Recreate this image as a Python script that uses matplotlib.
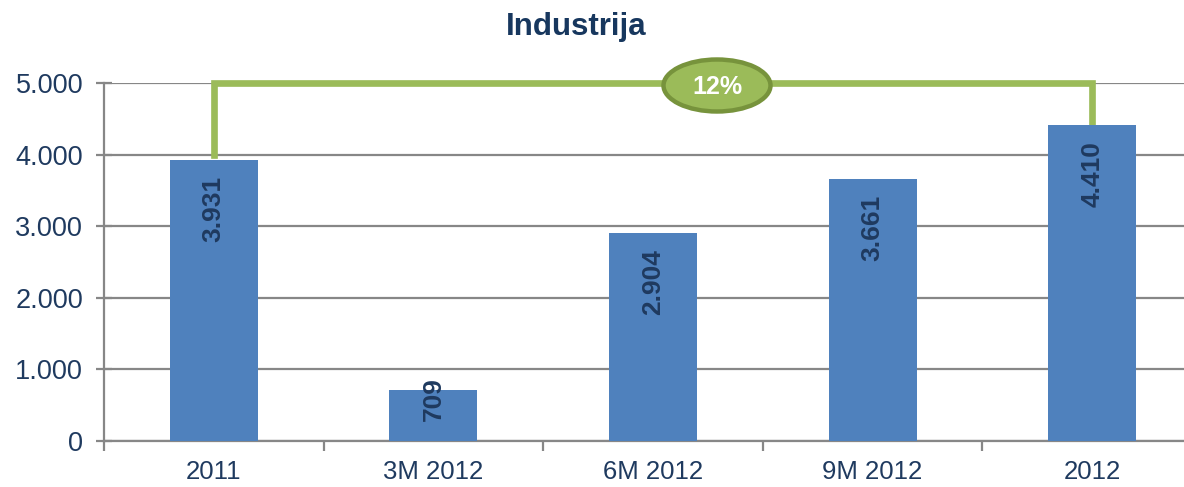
#!/usr/bin/env python3

import numpy as np
import matplotlib
matplotlib.use('Agg')
from matplotlib import pyplot as plt
from matplotlib.patches import Ellipse

categories = ['2011', '3M 2012', '6M 2012', '9M 2012', '2012']
values = [3931, 709, 2904, 3661, 4410]
value_labels = ['3.931', '709', '2.904', '3.661', '4.410']
yticks = [0, 1000, 2000, 3000, 4000, 5000]
ytick_labels = ['0', '1.000', '2.000', '3.000', '4.000', '5.000']
growth_label = '12%'

plt.rcParams['font.family'] = ['Liberation Sans', 'DejaVu Sans']

bar_color = '#4F81BD'
text_color = '#1F3A5F'
green = '#9BBB59'
grid_color = '#878787'

fig = plt.figure(figsize=(11.84, 4.87), dpi=100)
ax = fig.add_axes([104 / 1184, 46 / 487, 1098 / 1184, 358 / 487])

x = np.arange(len(categories))
bars = ax.bar(x, values, width=0.4, color=bar_color, zorder=3)

ax.set_xlim(-0.5, len(categories) - 0.5)
ax.set_ylim(0, 5000)
ax.set_yticks(yticks)
ax.set_yticklabels(ytick_labels)
ax.set_xticks(x)
ax.set_xticklabels(categories)
ax.set_xticks(np.arange(len(categories) + 1) - 0.5, minor=True)

ax.grid(axis='y', color=grid_color, linewidth=1.6, zorder=0)
for s in ['top', 'right']:
    ax.spines[s].set_visible(False)
for s in ['left', 'bottom']:
    ax.spines[s].set_color(grid_color)
    ax.spines[s].set_linewidth(1.6)

ax.tick_params(axis='y', direction='inout', length=12, width=1.6, color=grid_color,
               labelsize=19.5, labelcolor=text_color, pad=9)
ax.tick_params(axis='x', which='major', length=0, labelsize=18.5, labelcolor=text_color, pad=14)
ax.tick_params(axis='x', which='minor', direction='out', length=7, width=1.6, color=grid_color)

# value labels inside bars
label_shift = [-49, -9, -49, -49, -49]
for xi, v, lab, sh in zip(x, values, value_labels, label_shift):
    ax.annotate(lab, (xi, v), xytext=(0, sh), textcoords='offset pixels',
                rotation=90, ha='center', va='center', fontsize=19,
                fontweight='bold', color=text_color, zorder=4)

# growth bracket
left, right = x[0], x[-1]
ax.plot([left, left, right, right],
        [values[0] + 60, 5000, 5000, values[-1] + 30],
        color=green, linewidth=4.8, solid_joinstyle='miter', clip_on=False, zorder=2)

ell = Ellipse((717 / 1184, 1 - 85.5 / 487), 107 / 1184, 52 / 487,
              transform=fig.transFigure, facecolor=green, edgecolor='#77933C',
              linewidth=3.2, zorder=5)
fig.patches.append(ell)
fig.text(717 / 1184, 1 - 87 / 487, growth_label, ha='center', va='center',
         fontsize=18, fontweight='bold', color='white', zorder=6)

fig.text(576 / 1184, 1 - 27 / 487, 'Industrija', ha='center', va='center',
         fontsize=22.5, fontweight='bold', color='#17375E')

fig.savefig('out.png', dpi=100)
